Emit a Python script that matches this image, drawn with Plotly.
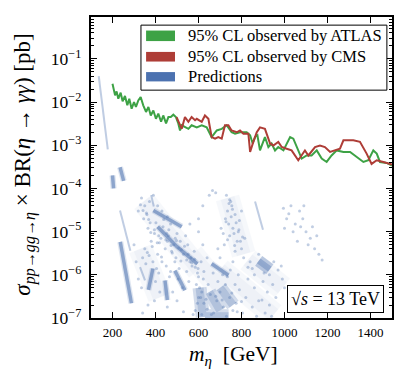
import plotly.graph_objects as go

# 95% CL observed limits (pb)
atlas_m = [200, 212, 219, 227, 238, 247, 258, 269, 278, 289, 300, 309, 320, 331, 343, 356, 367,
           378, 390, 402, 413, 426, 436, 449, 460, 471, 483, 495, 506, 514, 522, 537, 553, 568,
           592, 615, 638, 661, 685, 708, 731, 754, 770, 793, 824, 840, 852, 863, 874, 886, 909,
           925, 940, 956, 971, 995, 1026, 1041, 1057, 1080, 1103, 1126, 1150, 1173, 1196, 1219,
           1243, 1274, 1305, 1336, 1367, 1390, 1413, 1429, 1444, 1475, 1500]
atlas_y = [0.0266, 0.0143, 0.0177, 0.0120, 0.0165, 0.0104, 0.0138, 0.0084, 0.0120, 0.0070,
           0.0100, 0.0077, 0.0109, 0.0131, 0.0084, 0.0059, 0.0077, 0.0049, 0.0064, 0.0041,
           0.0054, 0.0035, 0.0049, 0.0032, 0.0045, 0.0045, 0.0051, 0.0045, 0.0032, 0.0022,
           0.0029, 0.0026, 0.0024, 0.0029, 0.0026, 0.0029, 0.0026, 0.00155, 0.0022, 0.0024,
           0.0029, 0.0020, 0.00185, 0.0020, 0.0020, 0.0017, 0.0011, 0.00155, 0.0017, 0.00076,
           0.00155, 0.00091, 0.0011, 0.00076, 0.00091, 0.00076, 0.00155, 0.00142, 0.00091,
           0.00049, 0.00058, 0.00058, 0.00076, 0.00049, 0.00041, 0.00058, 0.00076, 0.00070,
           0.00070, 0.00053, 0.00041, 0.00045, 0.00076, 0.00064, 0.00041, 0.00039, 0.00034]

cms_m = [498, 522, 537, 553, 568, 584, 592, 615, 630, 646, 661, 677, 692, 708, 723, 739, 754,
         778, 793, 809, 832, 840, 855, 871, 886, 909, 933, 948, 971, 987, 1010, 1033, 1064,
         1095, 1111, 1142, 1165, 1188, 1212, 1235, 1258, 1274, 1320, 1351, 1382, 1405, 1429,
         1460, 1491, 1500]
cms_y = [0.0045, 0.0024, 0.0045, 0.0035, 0.0045, 0.0038, 0.0041, 0.0035, 0.0049, 0.0041,
         0.00155, 0.00142, 0.00155, 0.00142, 0.0029, 0.0029, 0.0022, 0.0020, 0.0022, 0.00185,
         0.00185, 0.00070, 0.0012, 0.0020, 0.0026, 0.0024, 0.0011, 0.00099, 0.0012, 0.00091,
         0.00083, 0.00076, 0.00045, 0.00076, 0.00058, 0.00091, 0.00099, 0.00091, 0.00070,
         0.00076, 0.00083, 0.0013, 0.0013, 0.0012, 0.00064, 0.00037, 0.00045, 0.00041,
         0.00037, 0.00036]

# model predictions: streaks (None splits them), diffuse bands and scattered points
thin_m = [136, 178, None, 235, 283, None, 863, 900, None, 328, 351, None, 380, 392]
thin_y = [0.04, 0.0008, None, 3.1e-5, 3.6e-6, None, 5e-5, 1.1e-5, None, 1.5e-6, 7.4e-7, None,
          7e-5, 3.8e-5]

thick_m = [200, 205, None, 235, 252, None, 236, 262, 288, None, 390, 522, None, 410, 500, 595,
           None, 388, 367, None, 444, 455, None, 490, 537, None, 661, 739]
thick_y = [2.0e-4, 1.0e-4, None, 3.1e-4, 1.5e-4, None, 5.8e-6, 1.2e-6, 2.2e-7, None, 3.1e-5,
           1.3e-5, None, 1.3e-5, 4.5e-6, 1.8e-6, None, 1.4e-6, 4.5e-7, None, 7.4e-7, 2.6e-7,
           None, 1.25e-6, 4.4e-7, None, 1.8e-6, 9.8e-7]

blob_m = [880, 932]
blob_y = [2.1e-6, 1.35e-6]

band_m = [345, 470, 600, None, 330, 420, None, 735, 810, None, 570, 700, None, 700, 950,
          None, 830, 990]
band_y = [5e-5, 8e-6, 1.3e-6, None, 4e-6, 3e-7, None, 6e-5, 3e-6, None, 3e-6, 5e-7, None,
          1.3e-6, 1.2e-7, None, 2.2e-6, 5e-7]

dense_m = [605, 620, None, 630, 740, None, 650, 700, None, 700, 760]
dense_y = [5e-7, 1.05e-7, None, 1.1e-7, 1.1e-7, None, 4e-7, 1.5e-7, None, 5e-7, 2e-7]

dots_m = [335, 350, 345, 365, 372, 390, 410, 430, 455, 470, 380, 395, 410, 425, 445, 460, 485,
          500, 515, 530, 550, 565, 580, 340, 355, 320, 335, 400, 415, 470, 490, 505, 525, 545,
          560, 590, 610, 480, 500, 420, 395, 365, 340, 455, 530, 575, 300, 310, 320, 560, 600,
          620, 640, 650, 665, 680, 620, 600, 360, 375, 395, 415, 435, 455, 475, 495, 520, 545,
          570, 595, 350, 370, 430, 450, 540, 555, 585, 600, 385, 405, 465, 510,
          330, 342, 358, 368, 378, 402, 418, 438, 448, 462, 478, 492, 508, 518, 535, 552, 568,
          582, 598, 612, 625, 362, 388, 408, 428, 452, 472, 498,
          730, 745, 755, 735, 770, 790, 760, 745, 780, 800, 720, 705, 810, 830, 760, 700, 690,
          815, 800, 725, 740, 765, 785, 750, 770, 795, 735, 715, 742, 758, 775, 752, 788, 805,
          728, 768,
          995, 1010, 1030, 1050, 1070, 1085, 1100, 1060, 1120, 1140, 1160, 1175, 1040, 1090,
          1000, 1130, 1020, 1075, 1110, 1150,
          840, 860, 880, 930, 950, 970, 990, 1000, 860, 900, 960, 880, 920, 850, 905, 945, 985,
          585, 600, 615, 625, 640, 655, 670, 685, 700, 715, 730, 745, 760, 775, 790, 805, 820,
          850, 870, 910, 940, 605, 645, 690, 735, 770, 595, 615, 635, 660, 680, 710, 725, 755,
          780, 800, 622, 668, 712, 748, 785, 830, 895, 930]
dots_y = [6e-5, 4e-5, 2e-5, 1.2e-5, 5e-5, 7e-5, 4e-5, 3e-5, 2.2e-5, 1.5e-5, 6e-6, 9e-6, 3e-6,
          7e-6, 4e-6, 8e-6, 5e-6, 9e-6, 6e-6, 3e-6, 5e-6, 2.5e-6, 3.5e-6, 2.5e-6, 1.8e-6,
          8e-7, 5e-7, 7e-7, 1.1e-6, 1.2e-6, 2e-6, 8e-7, 5e-7, 1.2e-6, 2e-6, 6e-7, 3e-7, 4e-7,
          2.5e-7, 4e-7, 2.5e-7, 2e-7, 1.3e-7, 1.8e-7, 1.4e-7, 1.2e-7, 5e-6, 2e-6, 3e-5, 1.5e-5,
          1e-5, 5e-6, 2.5e-6, 7e-5, 9e-5, 8e-5, 4e-5, 2e-5, 2.5e-5, 1.6e-5, 1.1e-5, 8e-6,
          1.3e-5, 6e-6, 3.5e-6, 2.5e-6, 3.8e-6, 2.2e-6, 1.6e-6, 1.1e-6, 4e-6, 2.8e-6, 2e-6,
          1.6e-6, 8e-6, 7e-7, 1.5e-6, 9e-7, 4.5e-6, 1.4e-6, 9e-7, 1.4e-6,
          4.2e-5, 3.1e-5, 2.7e-5, 1.9e-5, 9.5e-6, 1.6e-5, 5.5e-6, 1.9e-5, 6.5e-6, 1.1e-5,
          3.2e-6, 7e-6, 4.2e-6, 2.1e-6, 4.6e-6, 3e-6, 1.9e-6, 2.3e-6, 1.4e-6, 2e-6, 1.2e-6,
          3.3e-6, 2e-6, 5.5e-6, 2.6e-6, 9e-6, 4.8e-6, 6.2e-6,
          7e-5, 5.5e-5, 4e-5, 3e-5, 2.5e-5, 1.8e-5, 1.2e-5, 8e-6, 6e-6, 4e-6, 5e-6, 1.2e-5,
          2.5e-6, 1.5e-6, 2e-6, 2.5e-6, 4e-6, 7e-6, 3e-5, 2e-5, 1.5e-5, 9e-6, 1e-5, 5e-5,
          3.5e-6, 6e-6, 6.5e-6, 9e-6, 4.5e-5, 3.3e-5, 1.6e-5, 2.2e-5, 1.1e-5, 7.5e-6, 1.7e-5,
          4.8e-6,
          3.5e-5, 2e-5, 4e-5, 1.5e-5, 3e-5, 2e-5, 1e-5, 6e-6, 7e-6, 4e-6, 3e-6, 2.2e-6, 1e-5,
          4e-5, 1.2e-5, 1.3e-5, 2.6e-5, 1.3e-5, 5e-6, 8e-6,
          2e-6, 1e-6, 3e-6, 1e-6, 2e-6, 1.3e-6, 8e-7, 5e-7, 5e-7, 7e-7, 3e-7, 2.5e-7, 4e-7,
          1.4e-6, 1.1e-6, 6e-7, 1.6e-6,
          1.5e-7, 3e-7, 1.2e-7, 2.2e-7, 1.6e-7, 3.5e-7, 1.3e-7, 2.5e-7, 4e-7, 1.8e-7, 1.1e-7,
          3e-7, 1.5e-7, 2.2e-7, 4.5e-7, 1.3e-7, 3e-7, 1.8e-7, 1.1e-7, 1.3e-7, 1.1e-7, 5e-7,
          6e-7, 7e-7, 9e-7, 6e-7, 2.2e-7, 4e-7, 2.7e-7, 1.2e-7, 3.2e-7, 2.6e-7, 6e-7, 3.8e-7,
          1.4e-7, 2.4e-7, 8e-7, 1.1e-6, 1e-6, 1.3e-6, 1e-6, 8e-7, 2.6e-7, 2e-7]

legend_labels = ["95% CL observed by ATLAS", "95% CL observed by CMS", "Predictions"]

GREEN = "#3da245"
RED = "#ae3d37"
BLUE = "#4c72b0"
FONT = "Liberation Serif"

fig = go.Figure()
# the diffuse bands are stacked at several widths so their edges fade out
for w in [24, 14]:
    fig.add_trace(go.Scatter(x=band_m, y=band_y, mode="lines", hoverinfo="skip", opacity=0.045,
                             line=dict(color=BLUE, width=w)))
for w in [14, 8]:
    fig.add_trace(go.Scatter(x=dense_m, y=dense_y, mode="lines", hoverinfo="skip", opacity=0.24,
                             line=dict(color=BLUE, width=w)))
fig.add_trace(go.Scatter(x=dots_m, y=dots_y, mode="markers", hoverinfo="skip",
                         marker=dict(color=BLUE, size=3, opacity=0.35, line=dict(width=0))))
fig.add_trace(go.Scatter(x=thin_m, y=thin_y, mode="lines", hoverinfo="skip", opacity=0.35,
                         line=dict(color=BLUE, width=2)))
for w, op in [(6, 0.18), (3.5, 0.55)]:
    fig.add_trace(go.Scatter(x=thick_m, y=thick_y, mode="lines", hoverinfo="skip", opacity=op,
                             line=dict(color=BLUE, width=w)))
for w in [12, 6]:
    fig.add_trace(go.Scatter(x=blob_m, y=blob_y, mode="lines", hoverinfo="skip", opacity=0.35,
                             line=dict(color=BLUE, width=w)))
fig.add_trace(go.Scatter(x=atlas_m, y=atlas_y, mode="lines", name=legend_labels[0],
                         line=dict(color=GREEN, width=2)))
fig.add_trace(go.Scatter(x=cms_m, y=cms_y, mode="lines", name=legend_labels[1],
                         line=dict(color=RED, width=2)))

axis_common = dict(showline=True, linecolor="black", linewidth=1.6, mirror="allticks",
                   ticks="inside", tickcolor="black", ticklen=6, tickwidth=1,
                   showgrid=False, zeroline=False, automargin=False)

fig.update_xaxes(range=[100, 1500], tick0=0, dtick=200, ticklabelstandoff=2,
                 tickfont=dict(family=FONT, size=13, color="black"), **axis_common)
fig.update_yaxes(type="log", range=[-7, -0.03], dtick=1, exponentformat="power",
                 showexponent="all", ticklabelstandoff=5,
                 tickfont=dict(family=FONT, size=14, color="black"),
                 minor=dict(ticks="inside", ticklen=3, tickcolor="black", showgrid=False),
                 **axis_common)

# hand-drawn legend box like matplotlib's
shapes = [dict(type="rect", xref="paper", yref="paper", x0=0.166, x1=0.983, y0=0.757, y1=0.973,
               line=dict(color="black", width=1), fillcolor="white", layer="above")]
patch_y = [(0.920, 0.955), (0.852, 0.884), (0.786, 0.817)]
for (y0, y1), c in zip(patch_y, [GREEN, RED, BLUE]):
    shapes.append(dict(type="rect", xref="paper", yref="paper", x0=0.183, x1=0.279, y0=y0, y1=y1,
                       line=dict(width=0), fillcolor=c, layer="above"))

annotations = []
for (y0, y1), label in zip(patch_y, legend_labels):
    annotations.append(dict(xref="paper", yref="paper", x=0.316, y=(y0 + y1) / 2,
                            xanchor="left", yanchor="middle", showarrow=False, text=label,
                            font=dict(family=FONT, size=16.5, color="black")))

annotations.append(dict(xref="paper", yref="paper", x=0.811, y=0.0615, xanchor="center",
                        yanchor="middle", showarrow=False, text="√<i>s</i> = 13 TeV",
                        font=dict(family=FONT, size=18, color="black"), bgcolor="white",
                        bordercolor="black", borderwidth=1, borderpad=3))
annotations.append(dict(xref="paper", yref="paper", x=0.475, y=-0.124, xanchor="center",
                        yanchor="middle", showarrow=False,
                        text="<i>m</i><sub><i>η</i></sub>  [GeV]",
                        font=dict(family=FONT, size=21.5, color="black")))
annotations.append(dict(xref="paper", yref="paper", x=-0.222, y=0.51, xanchor="center",
                        yanchor="middle", showarrow=False, textangle=-90,
                        text="<i>σ</i><sub><i>pp</i>→<i>gg</i>→<i>η</i></sub> × BR(<i>η</i> → <i>γγ</i>) [pb]",
                        font=dict(family=FONT, size=23, color="black")))

# the page body has an 8 px margin, so shift the plot up/left by that much
fig.update_layout(width=405, height=389, margin=dict(l=83, r=21, t=9, b=79),
                  paper_bgcolor="white", plot_bgcolor="white", showlegend=False,
                  shapes=shapes, annotations=annotations)

fig.write_html("out.html")
